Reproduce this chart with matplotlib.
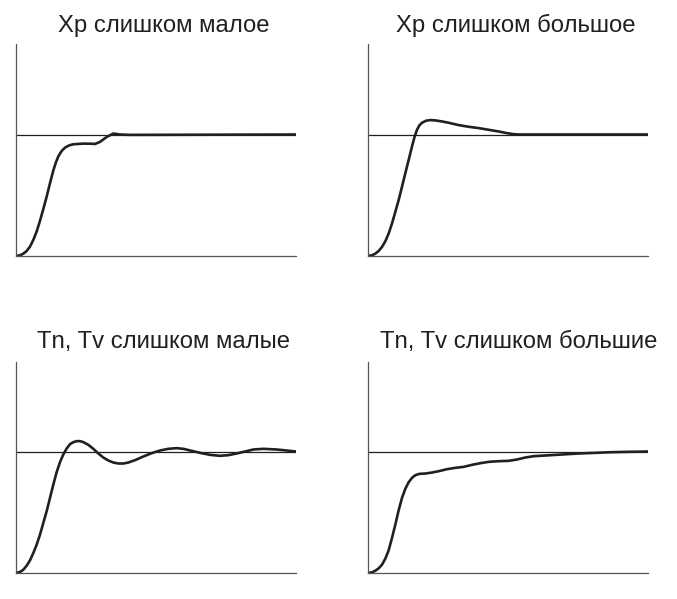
import numpy as np
import matplotlib
matplotlib.use("Agg")
import matplotlib.pyplot as plt

plt.rcParams['font.family'] = ['Liberation Sans', 'DejaVu Sans']

# Step responses (x: time 0..1, y: setpoint = 1)
titles = ["Xp слишком малое", "Xp слишком большое",
          "Tn, Tv слишком малые", "Tn, Tv слишком большие"]

xp_small_t = [0.0, 0.0143, 0.0262, 0.0381, 0.05, 0.0619, 0.0738, 0.0857, 0.0976,
              0.1095, 0.1214, 0.1333, 0.1429, 0.1512, 0.1631, 0.175, 0.1905, 0.2048,
              0.240, 0.270, 0.282, 0.300, 0.324, 0.348, 0.371, 0.407, 1.0]
xp_small_y = [0.0, 0.0055, 0.0193, 0.0414, 0.0773, 0.1326, 0.2016, 0.29, 0.3867,
              0.4888, 0.5993, 0.7042, 0.7732, 0.8202, 0.8644, 0.892, 0.9113, 0.9196,
              0.925, 0.924, 0.922, 0.939, 0.980, 1.008, 1.0, 0.997, 1.0]

xp_large_t = [0.0, 0.0143, 0.0262, 0.0381, 0.05, 0.0619, 0.0738, 0.0857, 0.0976,
              0.1095, 0.1214, 0.1333, 0.1452, 0.1571, 0.1667, 0.175, 0.1833, 0.1929,
              0.2071, 0.2226, 0.2405, 0.2643, 0.2881, 0.3238, 0.3595, 0.3952, 0.431,
              0.4667, 0.4964, 0.5202, 0.5381, 1.0]
xp_large_y = [0.0, 0.0058, 0.0196, 0.0416, 0.0746, 0.1215, 0.1849, 0.2675, 0.3638,
              0.4603, 0.5705, 0.6807, 0.7909, 0.9011, 0.9838, 1.0386, 1.0744, 1.0967,
              1.1132, 1.1188, 1.1160, 1.1074, 1.0967, 1.0774, 1.0636, 1.0526, 1.0386,
              1.0248, 1.011, 1.0027, 1.0, 1.0]

tn_small_t = [0.0, 0.0143, 0.0262, 0.0381, 0.05, 0.0619, 0.0738, 0.0857, 0.0976,
              0.1095, 0.1214, 0.1333, 0.1452, 0.1571, 0.169, 0.181, 0.1929, 0.2048,
              0.2167, 0.2286, 0.2405, 0.2583, 0.2762, 0.294, 0.3119, 0.3298, 0.3476,
              0.3655, 0.3833, 0.4012, 0.425, 0.4548, 0.4845, 0.5143, 0.544, 0.5738,
              0.5976, 0.6274, 0.6571, 0.6929, 0.7286, 0.7583, 0.7881, 0.8179, 0.8476,
              0.8833, 0.9310, 0.9667, 1.0]
tn_small_y = [0.0, 0.0082, 0.0272, 0.0602, 0.1042, 0.1646, 0.2333, 0.3157, 0.4121,
              0.5083, 0.6182, 0.728, 0.8297, 0.9121, 0.9753, 1.0247, 1.0605, 1.0770,
              1.0852, 1.0852, 1.0770, 1.0550, 1.0220, 0.9835, 0.9505, 0.9258, 0.9093,
              0.9011, 0.9011, 0.9093, 0.9286, 0.9588, 0.9863, 1.0082, 1.0220, 1.0275,
              1.022, 1.0055, 0.989, 0.9725, 0.9643, 0.9698, 0.9835, 1.0, 1.0165,
              1.022, 1.0165, 1.0082, 1.0]

tn_large_t = [0.0, 0.0143, 0.0262, 0.0381, 0.05, 0.0619, 0.0738, 0.0857, 0.0976,
              0.1095, 0.1214, 0.1333, 0.1452, 0.1571, 0.169, 0.1833, 0.2048, 0.2286,
              0.2524, 0.2821, 0.3119, 0.3417, 0.3714, 0.4012, 0.431, 0.4667, 0.5024,
              0.5321, 0.5619, 0.5917, 0.6333, 0.6929, 0.7524, 0.8119, 0.8714, 0.931, 1.0]
tn_large_y = [0.0, 0.0049, 0.019, 0.0382, 0.0684, 0.1179, 0.1866, 0.2885, 0.3984,
              0.5165, 0.6182, 0.6924, 0.7473, 0.7831, 0.805, 0.816, 0.8186, 0.8269,
              0.8379, 0.8544, 0.8654, 0.8736, 0.8901, 0.9038, 0.9148, 0.9203, 0.9231,
              0.934, 0.9505, 0.9615, 0.967, 0.9753, 0.9835, 0.989, 0.9945, 0.9973, 1.0]

series = [(xp_small_t, xp_small_y), (xp_large_t, xp_large_y),
          (tn_small_t, tn_small_y), (tn_large_t, tn_large_y)]

W, H = 677, 599
fig = plt.figure(figsize=(W / 100, H / 100), dpi=100)

# pixel boxes: left, bottom, top (measured from the top edge)
boxes = [(16, 256, 44), (368, 256, 44), (16, 573, 362), (368, 573, 362)]
title_pos = [(164, 31.7), (516, 31.7), (163.5, 348.3), (518.5, 348.3)]
ink = '#231f20'

for i, (t, y) in enumerate(series):
    left, bot, top = boxes[i]
    ax = fig.add_axes([left / W, 1 - bot / H, 280 / W, (bot - top) / H])
    ax.plot(t, y, color=ink, lw=1.9, solid_joinstyle='round', solid_capstyle='round')
    ax.axhline(1.0, color=ink, lw=0.9)
    ax.set_xlim(0, 1)
    ax.set_ylim(0, (bot - top) / 121.5)
    ax.set_xticks([])
    ax.set_yticks([])
    for s in ['top', 'right']:
        ax.spines[s].set_visible(False)
    for s in ['left', 'bottom']:
        ax.spines[s].set_color('#555555')
        ax.spines[s].set_linewidth(0.9)
    tx, ty = title_pos[i]
    fig.text(tx / W, 1 - ty / H, titles[i], ha='center', va='baseline',
             fontsize=17.2, color=ink)

plt.savefig("out.png", dpi=100)
